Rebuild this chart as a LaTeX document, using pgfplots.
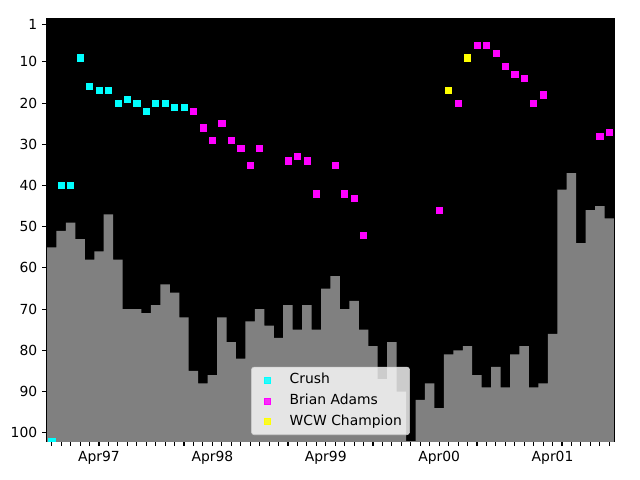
\documentclass[border=0pt]{standalone}
\usepackage{fontspec}
\setmainfont{DejaVu Sans}
\usepackage{pgfplots}
\pgfplotsset{compat=1.18}
\usepackage{pgfplotstable}
\usepgfplotslibrary{fillbetween}
\definecolor{mplgray}{HTML}{808080}
\definecolor{legedge}{HTML}{CCCCCC}
\definecolor{mcyan}{HTML}{00FFFF}
\definecolor{mmag}{HTML}{FF00FF}
\definecolor{myel}{HTML}{FFFF00}

% monthly rank bars: left edge of each month bar (0 = Nov96), rank
\pgfplotstableread{
left rank
-0.5 55
0.5 51
1.5 49
2.5 53
3.5 58
4.5 56
5.5 47
6.5 58
7.5 70
8.5 70
9.5 71
10.5 69
11.5 64
12.5 66
13.5 72
14.5 85
15.5 88
16.5 86
17.5 72
18.5 78
19.5 82
20.5 73
21.5 70
22.5 74
23.5 77
24.5 69
25.5 75
26.5 69
27.5 75
28.5 65
29.5 62
30.5 70
31.5 68
32.5 75
33.5 79
34.5 87
35.5 78
36.5 90
37.5 102
38.5 92
39.5 88
40.5 94
41.5 81
42.5 80
43.5 79
44.5 86
45.5 89
46.5 84
47.5 89
48.5 81
49.5 79
50.5 89
51.5 88
52.5 76
53.5 41
54.5 37
55.5 54
56.5 46
57.5 45
58.5 48
59.5 48
}\rankdata

\pgfplotstableread{
m rank
0 102
1 40
2 40
3 9
4 16
5 17
6 17
7 20
8 19
9 20
10 22
11 20
12 20
13 21
14 21
}\crush

\pgfplotstableread{
m rank
15 22
16 26
17 29
18 25
19 29
20 31
21 35
22 31
25 34
26 33
27 34
28 42
30 35
31 42
32 43
33 52
41 46
43 20
45 6
46 6
47 8
48 11
49 13
50 14
51 20
52 18
58 28
59 27
}\brian

\pgfplotstableread{
m rank
42 17
44 9
}\wcw

\begin{document}
\begin{tikzpicture}
\begin{axis}[
  at={(0,0)}, anchor=south west,
  scale only axis, width=408.24pt, height=303.84pt,
  xmin=-0.5, xmax=59.5, ymin=-0.4, ymax=102, y dir=reverse,
  axis background/.style={fill=black},
  xtick={5,17,29,41,53},
  xticklabels={Apr97,Apr98,Apr99,Apr00,Apr01},
  minor xtick={0,...,59},
  ytick={1,10,20,30,40,50,60,70,80,90,100},
  tick align=outside, tick pos=left,
  major tick length=3.5pt, minor tick length=3.5pt,
  every tick/.style={black, line width=0.8pt},
  every minor tick/.style={black, line width=0.8pt},
  axis line style={line width=0.8pt},
  /pgf/number format/assume math mode=true,
  ticklabel style={font=\fontsize{10}{12}\selectfont},
  clip marker paths=true,
  legend image code/.code={\path (0cm,-0.1cm) (0.6cm,0.1cm); \draw[#1] plot coordinates {(0.3cm,0cm)};},
  legend style={at={(0.5,0.0142)}, anchor=south, draw=legedge, fill=white,
    fill opacity=0.8, text opacity=1, rounded corners=2pt,
    inner xsep=3pt, inner ysep=2pt, column sep=4.5pt,
    font=\fontsize{10}{12}\selectfont,
    nodes={inner sep=2.6pt, text height=7.5pt, text depth=2.2pt}},
  legend cell align=left,
]
\addplot[draw=none, const plot, name path=bars, forget plot] table[x=left, y=rank] {\rankdata};
\addplot[draw=none, name path=base, forget plot] coordinates {(-0.5,103) (59.5,103)};
\addplot[fill=mplgray, draw=none, forget plot] fill between[of=bars and base];

\addplot[only marks, mark=square*, mark size=2.2pt, color=mcyan, mark options={line width=0.4pt}] table[x=m, y=rank] {\crush};
\addlegendentry{Crush}
\addplot[only marks, mark=square*, mark size=2.2pt, color=mmag, mark options={line width=0.4pt}] table[x=m, y=rank] {\brian};
\addlegendentry{Brian Adams}
\addplot[only marks, mark=square*, mark size=2.2pt, color=myel, mark options={line width=0.4pt}] table[x=m, y=rank] {\wcw};
\addlegendentry{WCW Champion}
\end{axis}
\pgfresetboundingbox
\path[use as bounding box] (-33.84pt,-28.08pt) rectangle (426.96pt,317.52pt);
\end{tikzpicture}
\end{document}
